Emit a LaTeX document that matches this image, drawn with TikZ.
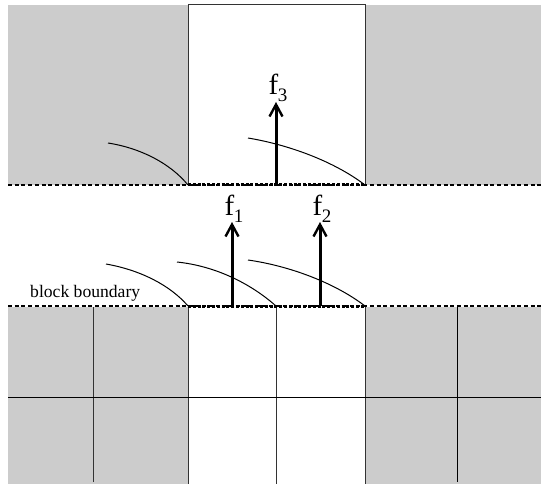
\documentclass[tikz,border=0pt]{standalone}
\usepackage{fontspec}
\setmainfont{Liberation Serif}
\usetikzlibrary{arrows.meta}
\definecolor{cellgray}{HTML}{CCCCCC}
\newcommand{\fsub}[1]{f\kern-0.5pt\raisebox{-7pt}{\fontsize{19}{19}\selectfont #1}}
\tikzset{
  thinline/.style={line width=1pt, black},
  gridline/.style={line width=1pt, black!80},
  bound/.style={line width=1.3pt, dash pattern=on 4pt off 2.7pt},
  boundthick/.style={line width=3.2pt, dash pattern=on 3pt off 1.8pt},
  flux/.style={line width=3pt, -{Straight Barb[length=12pt,width=13pt,line width=2.4pt]}},
  arcline/.style={line width=1pt},
  flabel/.style={font=\fontsize{29}{30}\selectfont, inner sep=0pt, anchor=base},
  btext/.style={font=\fontsize{17.6}{19}\selectfont, inner sep=0pt, anchor=base west}
}
\begin{document}
\begin{tikzpicture}[x=1pt,y=-1pt]
\useasboundingbox (0,0) rectangle (541,484);
% top gray
\fill[cellgray] (8,5) rectangle (188,185);
\fill[cellgray] (365,5) rectangle (541,185);
\draw[gridline] (188,185) -- (188,5) -- (365,5) -- (365,185);
% bottom gray
\fill[cellgray] (8,307) rectangle (188,484);
\fill[cellgray] (365,307) rectangle (541,484);
\draw[gridline] (93,307) -- (93,482);
\draw[gridline] (188,307) -- (188,484);
\draw[gridline] (276,307) -- (276,484);
\draw[gridline] (365,307) -- (365,484);
\draw[thinline] (457,307) -- (457,482);
\draw[thinline] (8,397) -- (541,397);
% boundaries
\draw[bound] (8,185) -- (541,185);
\draw[boundthick] (188,184.5) -- (365,184.5);
\draw[bound] (8,306) -- (541,306);
\draw[boundthick] (188,306.5) -- (365,306.5);
% arcs
\draw[arcline] (108,143) .. controls (140,148) and (170,163) .. (188,185);
\draw[arcline] (248,138) .. controls (290,145) and (335,162) .. (365,185);
\draw[arcline] (106,264) .. controls (140,270) and (170,285) .. (188,306);
\draw[arcline] (177,262) .. controls (215,266) and (250,283) .. (276,306);
\draw[arcline] (248,260) .. controls (290,266) and (335,283) .. (365,306);
% fluxes
\coordinate (b1) at (232,306);
\coordinate (b2) at (320,306);
\coordinate (b3) at (276,185);
\node[flabel] (f1) at (234,215) {\fsub{1}};
\node[flabel] (f2) at (322,215) {\fsub{2}};
\node[flabel] (f3) at (278,95) {\fsub{3}};
\draw[flux] (b1) -- (232,222);
\draw[flux] (b2) -- (320,222);
\draw[flux] (b3) -- (276,102);
\node[btext] (bb) at (30,297) {block boundary};
\end{tikzpicture}
\end{document}
